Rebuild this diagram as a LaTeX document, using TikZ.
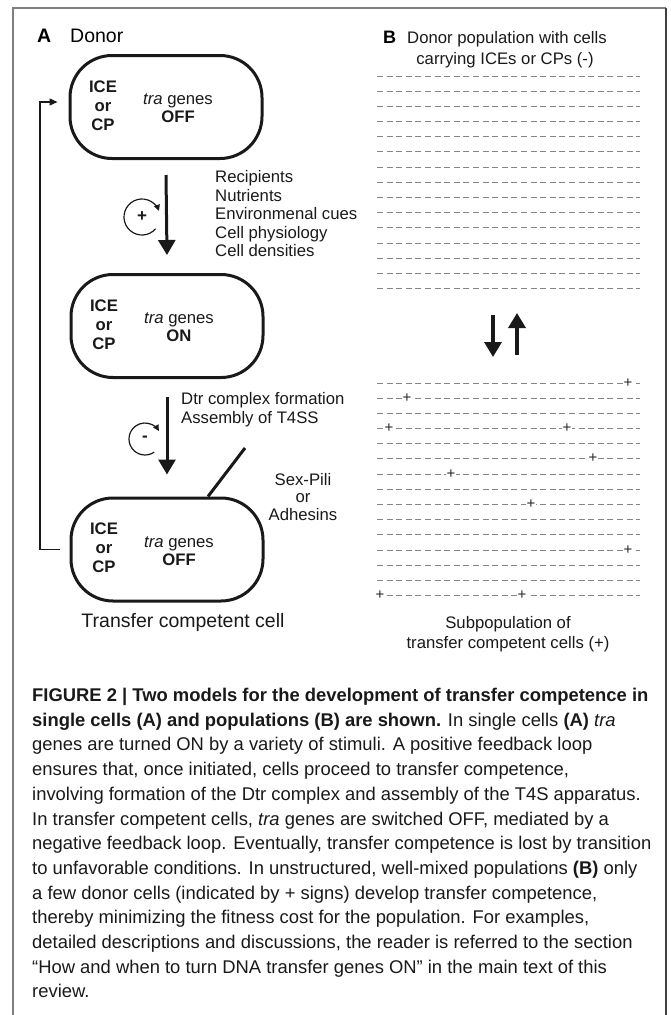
\documentclass[tikz,border=0pt]{standalone}
\usepackage{fontspec}
\setmainfont{Liberation Sans}
\usetikzlibrary{arrows.meta,calc}
\begin{document}
\begin{tikzpicture}[x=1pt,y=1pt,
  cell/.style={draw=black!90, line width=3pt, rounded corners=42pt, minimum width=192pt, minimum height=103pt, inner sep=0pt},
  lbl/.style={font=\fontsize{16.7}{18.5}\selectfont, inner sep=0pt, text=black!90},
  bigarrow/.style={line width=3pt, draw=black!90, -{Triangle[width=17pt,length=15pt]}},
  looparrow/.style={line width=1.2pt, draw=black!90, -{Triangle[width=6pt,length=6pt]}},
  fbline/.style={line width=1.4pt, draw=black!90, -{Triangle[width=7pt,length=8pt]}},
  dashrow/.style={draw=black!48, line width=1pt, dash pattern=on 6pt off 3.6pt},
  plussign/.style={font=\fontsize{15}{15}\selectfont, fill=white, inner sep=0.6pt, text=black!85},
  captxt/.style={anchor=base west, inner sep=0pt, font=\fontsize{18.4}{24.7}\selectfont, text=black!90},
]
\useasboundingbox (0,0) rectangle (671,-1015);
% frame
\draw[black!50, line width=2pt] (13,-1020) -- (13,-8) -- (666,-8);
\draw[black!75, line width=2pt] (666,-8) -- (666,-1020);

% Panel A headings
\node[anchor=base west, inner sep=0pt, font=\fontsize{19.5}{20}\selectfont\bfseries] (hA) at (37,-42) {A};
\node[anchor=base west, inner sep=0pt, font=\fontsize{19.5}{20}\selectfont] (hAt) at (70,-42) {Donor};

% cells
\node[cell] (c1) at (166,-107) {};
\node[cell] (c2) at (167,-326) {};
\node[cell] (c3) at (167,-549.5) {};

\foreach \c/\st in {c1/OFF,c2/ON,c3/OFF}{
  \node[lbl, align=center, font=\fontsize{16.7}{19}\selectfont\bfseries] (\c ice) at ($(\c.center)+(-63,1.5)$) {ICE\\or\\CP};
  \node[lbl, align=center, font=\fontsize{16.7}{18}\selectfont] (\c tra) at ($(\c.center)+(12,-1.5)$) {\textit{tra} genes\\\textbf{\st}};
}

% main arrows
\draw[bigarrow] ([yshift=-15pt]c1.south) -- ([yshift=18pt]c2.north);
\draw[bigarrow] ([yshift=-18pt]c2.south) -- ([yshift=22pt]c3.north);

% feedback circles
\node[lbl, font=\fontsize{17}{17}\selectfont\bfseries] (pl) at (142,-217) {+};
\draw[looparrow] (pl.center) ++(-41:18) arc[start angle=-41, end angle=-340, radius=18];
\node[lbl, font=\fontsize{17}{17}\selectfont\bfseries] (mi) at (145,-439) {-};
\draw[looparrow] (mi.center) ++(-55:16) arc[start angle=-55, end angle=-330, radius=16];

% labels
\node[lbl, anchor=west, align=left] (stim) at (215,-214) {Recipients\\Nutrients\\Environmenal cues\\Cell physiology\\Cell densities};
\node[lbl, anchor=west, align=left, font=\fontsize{16.7}{19}\selectfont] (dtr) at (181,-409.5) {Dtr complex formation\\Assembly of T4SS};
\node[lbl, align=center, font=\fontsize{16.7}{17.5}\selectfont] (pili) at (303,-497) {Sex-Pili\\or\\Adhesins};
\coordinate (piltip) at (245,-448);
\draw[line width=3pt, draw=black!90] ([xshift=41pt]c3.north) -- (piltip);
\node[anchor=base, inner sep=0pt, font=\fontsize{19.5}{20}\selectfont, text=black!90] (tcc) at (183,-627) {Transfer competent cell};

% return loop
\coordinate (loopx) at (40,0);
\coordinate (c1in) at ([shift={(-11pt,5pt)}]c1.west);
\draw[fbline] ([xshift=-10pt]c3.west) -| (loopx |- c1in) -- (c1in);

% Panel B
\node[anchor=base west, inner sep=0pt, font=\fontsize{18}{20}\selectfont\bfseries] (hB) at (383,-43.5) {B};
\node[lbl, anchor=base west] (bt1) at (407,-43.5) {Donor population with cells};
\node[lbl, anchor=base] (bt2) at (505,-64.5) {carrying ICEs or CPs (-)};

\foreach \i in {0,...,14}{
  \pgfmathsetmacro{\ya}{-(floor(76+15.2*\i)+0.5)}
  \pgfmathsetmacro{\yb}{-(floor(383+15.2*\i)+0.5)}
  \draw[dashrow] (377,\ya) -- (640,\ya);
  \draw[dashrow] (377,\yb) -- (640,\yb);
}
\foreach \px/\r [count=\k] in {628/0,407/1,389/3,567/3,593/5,451/6,531/8,628/11,380/14,522/14}{
  \pgfmathsetmacro{\yp}{-(floor(383+15.2*\r)+0.5)}
  \node[plussign] (p\k) at (\px,\yp) {+};
}

\coordinate (d1) at (493,-315); \coordinate (d2) at (493,-357);
\coordinate (u1) at (517,-355); \coordinate (u2) at (517,-313);
\draw[bigarrow, line width=3.4pt] (d1) -- (d2);
\draw[bigarrow, line width=3.4pt] (u1) -- (u2);

\node[lbl, anchor=base] (sp1) at (508,-628) {Subpopulation of};
\node[lbl, anchor=base] (sp2) at (508,-648) {transfer competent cells (+)};

% caption
\node[captxt] (cap1) at (32,-701.5) {\textbf{FIGURE 2 | Two models for the development of transfer competence in}};
\node[captxt] (cap2) at (32,-726.2) {\textbf{single cells (A) and populations (B) are shown.} In single cells \textbf{(A)} \textit{tra}};
\node[captxt] (cap3) at (32,-750.9) {genes are turned ON by a variety of stimuli. A positive feedback loop};
\node[captxt] (cap4) at (32,-775.6) {ensures that, once initiated, cells proceed to transfer competence,};
\node[captxt] (cap5) at (32,-800.3) {involving formation of the Dtr complex and assembly of the T4S apparatus.};
\node[captxt] (cap6) at (32,-825.0) {In transfer competent cells, \textit{tra} genes are switched OFF, mediated by a};
\node[captxt] (cap7) at (32,-849.7) {negative feedback loop. Eventually, transfer competence is lost by transition};
\node[captxt] (cap8) at (32,-874.4) {to unfavorable conditions. In unstructured, well-mixed populations \textbf{(B)} only};
\node[captxt] (cap9) at (32,-899.1) {a few donor cells (indicated by + signs) develop transfer competence,};
\node[captxt] (cap10) at (32,-923.8) {thereby minimizing the fitness cost for the population. For examples,};
\node[captxt] (cap11) at (32,-948.5) {detailed descriptions and discussions, the reader is referred to the section};
\node[captxt] (cap12) at (32,-973.2) {“How and when to turn DNA transfer genes ON” in the main text of this};
\node[captxt] (cap13) at (32,-997.9) {review.};
\end{tikzpicture}
\end{document}
